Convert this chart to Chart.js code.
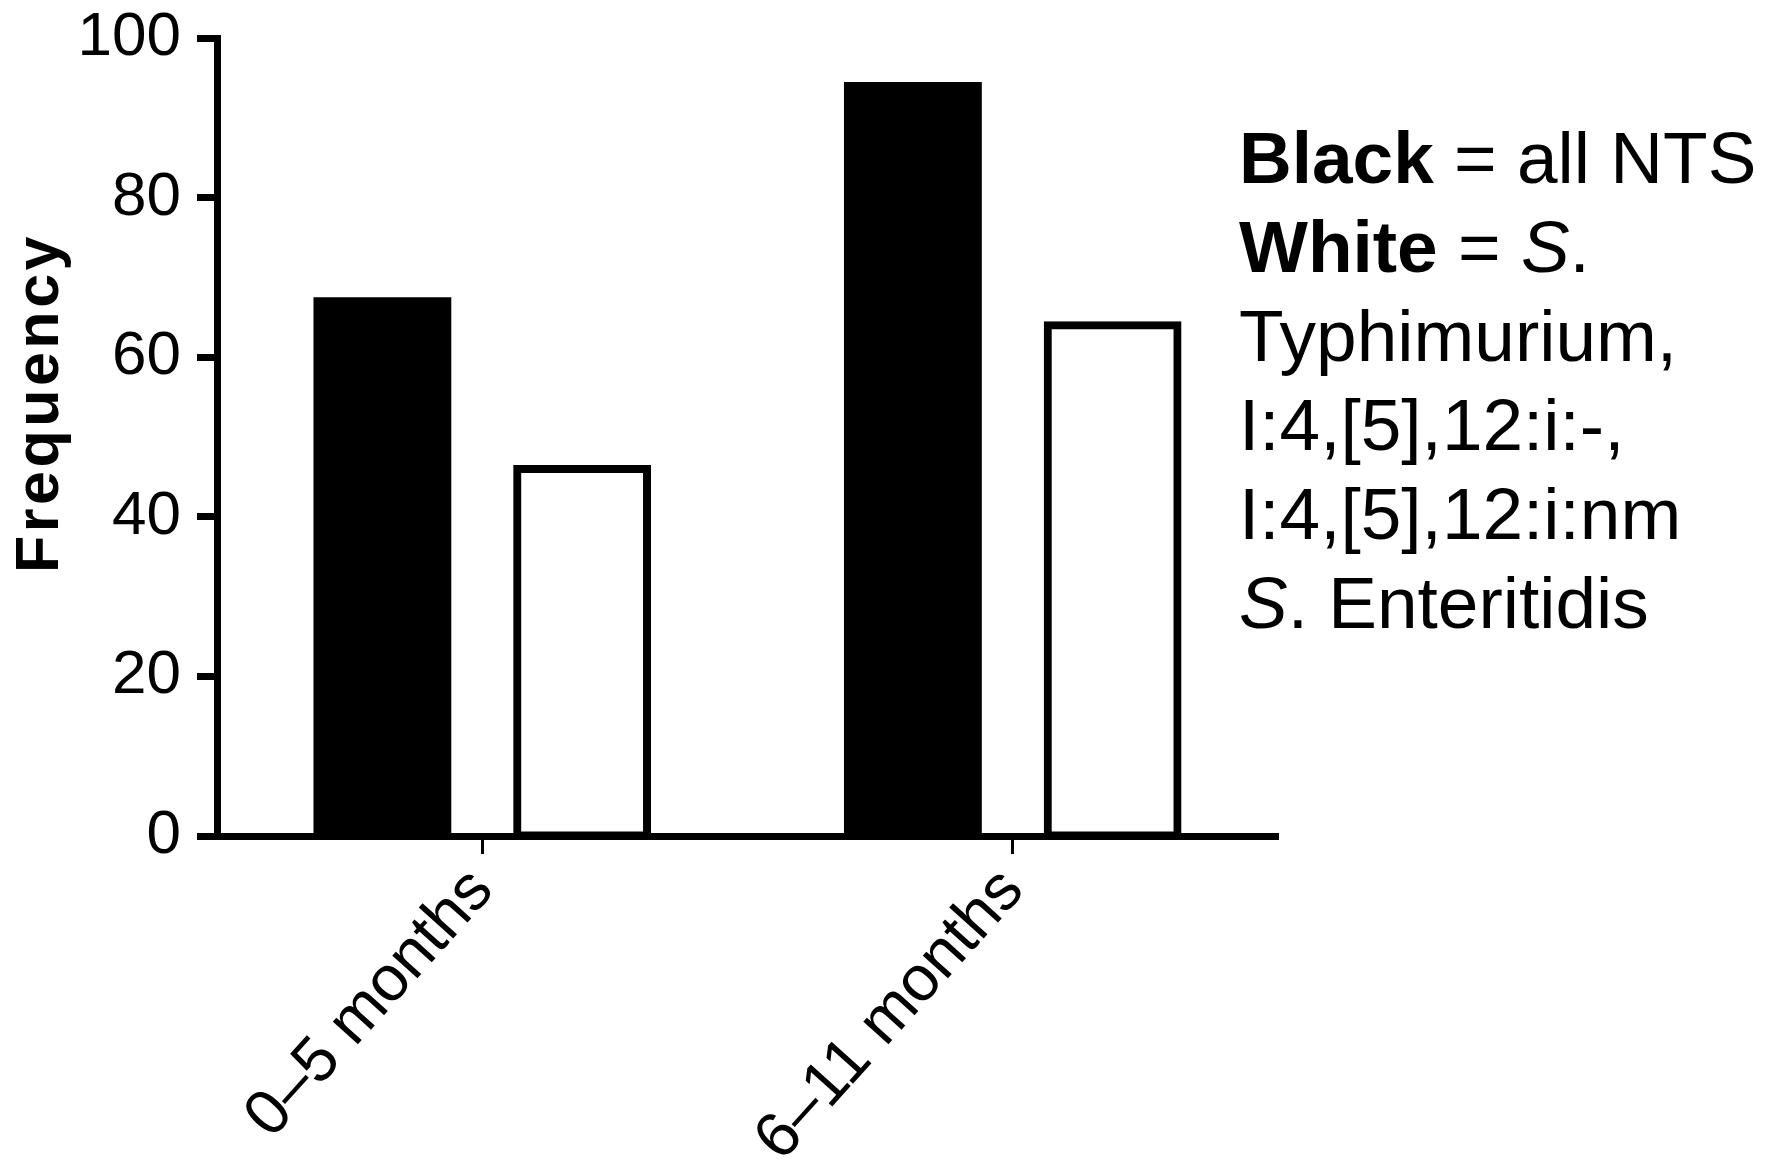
<!DOCTYPE html>
<html>
<head>
<meta charset="utf-8">
<title>Frequency by age group</title>
<script src="https://cdn.jsdelivr.net/npm/chart.js@4.4.1/dist/chart.umd.min.js"></script>
<style>
  body { margin: 0; background: #fff; }
  #wrap { position: relative; width: 1769px; height: 1163px; }
  #ytitle {
    position: absolute; left: 37px; top: 403px;
    transform: translate(-50%, -50%) rotate(-90deg);
    font: bold 61px/70px "Liberation Sans", Arial, sans-serif;
    letter-spacing: 3.5px;
    white-space: nowrap; color: #000;
  }
  #legend {
    position: absolute; left: 1239px; top: 113px;
    font: 73px/89px "Liberation Sans", Arial, sans-serif;
    color: #000; white-space: nowrap;
  }
</style>
</head>
<body>
<div id="wrap">
  <canvas id="chart" width="1769" height="1163"></canvas>
  <div id="ytitle">Frequency</div>
  <div id="legend"></div>
</div>
<script>
const ageGroups = ['0–5 months', '6–11 months'];
const allNts = [67, 94];
const typhiEnteritidis = [46, 64];
const yTicks = [0, 20, 40, 60, 80, 100];

const legendLines = [
  '<b>Black</b> = all NTS',
  '<b>White</b> = <i>S</i>.',
  'Typhimurium,',
  'I:4,[5],12:i:-,',
  'I:4,[5],12:i:nm',
  '<i>S</i>. Enteritidis'
];
document.getElementById('legend').innerHTML = legendLines.join('<br>');

const fontFamily = '"Liberation Sans", Arial, sans-serif';

new Chart(document.getElementById('chart'), {
  type: 'bar',
  data: {
    labels: ageGroups,
    datasets: [
      {
        label: 'all NTS',
        data: allNts,
        backgroundColor: '#000',
        borderWidth: 0,
        inflateAmount: 4
      },
      {
        label: 'S. Typhimurium, I:4,[5],12:i:-, I:4,[5],12:i:nm, S. Enteritidis',
        data: typhiEnteritidis,
        backgroundColor: '#fff',
        borderColor: '#000',
        borderWidth: 8,
        borderSkipped: false,
        inflateAmount: 4
      }
    ]
  },
  options: {
    responsive: false,
    animation: false,
    barPercentage: 0.65,
    categoryPercentage: 0.753,
    layout: { padding: { left: 0, top: 38, right: 491, bottom: 0 } },
    plugins: { legend: { display: false }, tooltip: { enabled: false } },
    scales: {
      x: {
        offset: true,
        grid: { offset: false, drawOnChartArea: false, tickLength: 18, tickWidth: 3, tickColor: '#000' },
        border: { display: true, width: 7, color: '#000' },
        ticks: { font: { family: fontFamily, size: 64 }, color: '#000', minRotation: 48, maxRotation: 48, padding: 0 },
        afterFit: s => { s.height = 1163 - 836; }
      },
      y: {
        min: 0,
        max: 100,
        afterBuildTicks: s => { s.ticks = yTicks.map(v => ({ value: v })); },
        grid: { drawOnChartArea: false, tickLength: 20, tickWidth: 7, tickColor: '#000' },
        border: { display: true, width: 7, color: '#000' },
        ticks: { font: { family: fontFamily, size: 62 }, color: '#000', padding: 16 },
        // keep the plot top at the layout padding, the "100" label may overhang
        afterFit: s => { s.width = 217; s.paddingTop = 0; s.paddingBottom = 0; }
      }
    }
  }
});
</script>
</body>
</html>
